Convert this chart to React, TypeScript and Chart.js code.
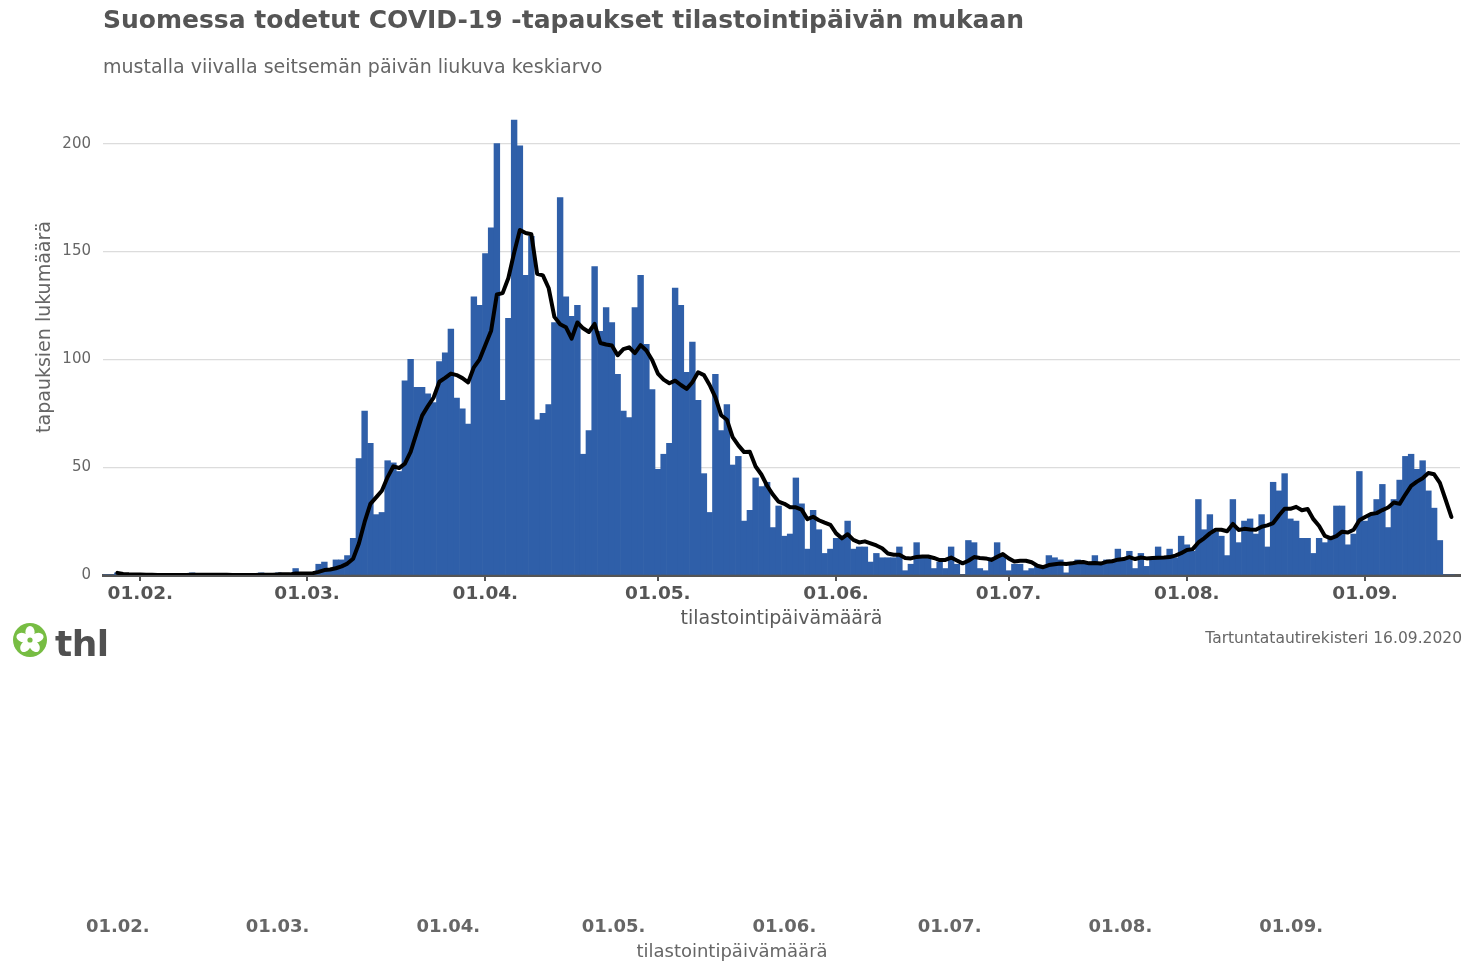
import React, { useEffect, useRef } from 'react';
import { Chart, registerables } from 'chart.js';

Chart.register(...registerables);

const FONT = "'DejaVu Sans', sans-serif";

// [month, first day, last day] of the category range (2020)
const monthSpans: [number, number, number][] = [
  [1, 26, 31], [2, 1, 29], [3, 1, 31], [4, 1, 30], [5, 1, 31],
  [6, 1, 30], [7, 1, 31], [8, 1, 31], [9, 1, 17],
];
const pad2 = (n: number) => String(n).padStart(2, '0');
const dayLabels: string[] = monthSpans.flatMap(([m, a, b]) =>
  Array.from({ length: b - a + 1 }, (_, i) => `${pad2(a + i)}.${pad2(m)}.`)
);

const monthTickLabels = ['01.02.', '01.03.', '01.04.', '01.05.', '01.06.', '01.07.', '01.08.', '01.09.'];

// daily cases (bars)
const casesJan = [0, 0, 1, 0, 0, 0];
const casesFeb = [0, 0, 0, 0, 0, 0, 0, 0, 0, 1, 0, 0, 0, 0, 0, 0, 0, 0, 0, 0, 0, 1, 0, 0, 1, 0, 0, 3, 1];
const casesMar = [0, 1, 5, 6, 2, 7, 7, 9, 17, 54, 76, 61, 28, 29, 53, 52, 48, 90, 100, 87, 87, 84, 80, 99, 103, 114, 82, 77, 70, 129, 125];
const casesApr = [149, 161, 200, 81, 119, 211, 199, 139, 157, 72, 75, 79, 117, 175, 129, 120, 125, 56, 67, 143, 113, 124, 117, 93, 76, 73, 124, 139, 107, 86];
const casesMay = [49, 56, 61, 133, 125, 94, 108, 81, 47, 29, 93, 67, 79, 51, 55, 25, 30, 45, 41, 43, 22, 32, 18, 19, 45, 33, 12, 30, 21, 10, 12];
const casesJun = [17, 17, 25, 12, 13, 13, 6, 10, 8, 8, 8, 13, 2, 5, 15, 9, 8, 3, 6, 3, 13, 5, 0, 16, 15, 3, 2, 8, 15, 9];
const casesJul = [2, 5, 5, 2, 3, 4, 4, 9, 8, 7, 1, 5, 7, 5, 5, 9, 5, 7, 7, 12, 7, 11, 3, 10, 4, 8, 13, 8, 12, 8, 18];
const casesAug = [14, 11, 35, 21, 28, 20, 18, 9, 35, 15, 25, 26, 19, 28, 13, 43, 39, 47, 26, 25, 17, 17, 10, 17, 15, 18, 32, 32, 14, 19, 48];
const casesSep = [25, 28, 35, 42, 22, 35, 44, 55, 56, 49, 53, 39, 31, 16, 0, 0, null];

// seven-day moving average (black line)
const avgJan = [null, null, 1.0, 0.5, 0.33, 0.25];
const avgFeb = [0.2, 0.17, 0.14, 0, 0, 0, 0, 0, 0, 0.14, 0.14, 0.14, 0.14, 0.14, 0.14, 0.14, 0, 0, 0, 0, 0, 0.14, 0.14, 0.14, 0.29, 0.29, 0.29, 0.71, 0.71];
const avgMar = [0.71, 0.86, 1.43, 2.29, 2.57, 3.14, 4.0, 5.29, 7.57, 14.6, 24.6, 33.0, 36.0, 39.1, 45.4, 50.4, 49.6, 51.6, 57.1, 65.6, 73.9, 78.3, 82.3, 89.6, 91.4, 93.4, 92.7, 91.3, 89.3, 96.3, 100.0];
const avgApr = [106.6, 113.3, 130.1, 130.7, 137.7, 149.4, 160.0, 158.6, 158.0, 139.7, 138.9, 133.1, 119.7, 116.3, 114.9, 109.6, 117.1, 114.4, 112.7, 116.4, 107.6, 106.9, 106.4, 101.9, 104.7, 105.6, 102.9, 106.6, 104.1, 99.7];
const avgMay = [93.4, 90.6, 88.9, 90.1, 88.1, 86.3, 89.4, 94.0, 92.7, 88.1, 82.4, 74.1, 72.0, 63.9, 60.1, 57.0, 57.1, 50.3, 46.6, 41.4, 37.3, 34.0, 33.0, 31.4, 31.4, 30.3, 25.9, 27.0, 25.4, 24.3, 23.3];
const avgJun = [19.3, 17.0, 18.9, 16.3, 15.1, 15.6, 14.7, 13.7, 12.4, 10.0, 9.4, 9.4, 7.9, 7.7, 8.4, 8.6, 8.6, 7.9, 6.9, 7.0, 8.1, 6.7, 5.4, 6.6, 8.3, 7.9, 7.7, 7.0, 8.4, 9.7];
const avgJul = [7.7, 6.3, 6.6, 6.6, 5.9, 4.3, 3.6, 4.6, 5.0, 5.3, 5.1, 5.4, 5.9, 6.0, 5.4, 5.6, 5.3, 6.1, 6.4, 7.1, 7.4, 8.3, 7.4, 8.1, 7.7, 7.9, 8.0, 8.1, 8.3, 9.0, 10.1];
const avgAug = [11.6, 12.0, 15.1, 17.0, 19.3, 21.0, 21.0, 20.3, 23.7, 20.9, 21.4, 21.1, 21.0, 22.4, 23.0, 24.1, 27.6, 30.7, 30.7, 31.6, 30.0, 30.6, 25.9, 22.7, 18.1, 17.0, 18.0, 20.1, 19.7, 21.0, 25.4];
const avgSep = [26.9, 28.3, 28.7, 30.1, 31.3, 33.6, 33.0, 37.3, 41.3, 43.3, 44.9, 47.3, 46.7, 42.7, 34.9, 26.9, null];

const cases = [...casesJan, ...casesFeb, ...casesMar, ...casesApr, ...casesMay, ...casesJun, ...casesJul, ...casesAug, ...casesSep];
const avg = [...avgJan, ...avgFeb, ...avgMar, ...avgApr, ...avgMay, ...avgJun, ...avgJul, ...avgAug, ...avgSep];

const keepMonthTicks = (s: any) => {
  s.ticks = s.ticks.filter((t: any) => monthTickLabels.includes(dayLabels[t.value]));
};

export default function App() {
  const mainRef = useRef<HTMLCanvasElement | null>(null);
  const lowerRef = useRef<HTMLCanvasElement | null>(null);

  useEffect(() => {
    const c1 = new Chart(mainRef.current as HTMLCanvasElement, {
      type: 'bar',
      data: {
        labels: dayLabels,
        datasets: [
          {
            type: 'line',
            data: avg,
            borderColor: '#000000',
            borderWidth: 4,
            pointRadius: 0,
            tension: 0,
            borderJoinStyle: 'round',
            borderCapStyle: 'round',
            order: 0,
          } as any,
          {
            type: 'bar',
            data: cases,
            backgroundColor: '#2f5fa9',
            borderWidth: 0,
            barPercentage: 1,
            categoryPercentage: 1,
            order: 1,
          } as any,
        ],
      },
      options: {
        responsive: false,
        animation: false,
        layout: { padding: { top: 79, left: 0, right: 20, bottom: 0 } },
        plugins: {
          legend: { display: false },
          tooltip: { enabled: false },
          title: { display: false },
        },
        scales: {
          x: {
            type: 'category',
            offset: true,
            z: 1,
            grid: { display: true, drawOnChartArea: false, drawTicks: true, tickLength: 6, offset: false, color: '#555555', lineWidth: 2 },
            border: { display: true, color: '#555555', width: 3 },
            ticks: {
              autoSkip: false,
              maxRotation: 0,
              minRotation: 0,
              padding: 2,
              color: '#555555',
              font: { family: FONT, size: 18.5, weight: 'bold', lineHeight: 1.2 },
            },
            afterBuildTicks: keepMonthTicks,
            afterFit: (s: any) => { s.height = 55; },
            title: {
              display: true,
              text: 'tilastointipäivämäärä',
              color: '#5a5a5a',
              font: { family: FONT, size: 19, lineHeight: 1.2 },
              padding: { top: 0, bottom: 0 },
            },
          } as any,
          y: {
            min: 0,
            max: 230,
            ticks: { stepSize: 50, padding: 12, color: '#666666', font: { family: FONT, size: 15 } },
            afterBuildTicks: (s: any) => { s.ticks = s.ticks.filter((t: any) => t.value % 50 === 0); },
            afterFit: (s: any) => { s.width = 103; },
            grid: { color: '#dcdcdc', lineWidth: 1.3, drawTicks: false },
            border: { display: false },
            title: {
              display: true,
              text: 'tapauksien lukumäärä',
              color: '#666666',
              font: { family: FONT, size: 19, lineHeight: 1.2 },
              padding: { top: 34, bottom: 0 },
            },
          } as any,
        },
      },
    });

    const c2 = new Chart(lowerRef.current as HTMLCanvasElement, {
      type: 'bar',
      data: {
        labels: dayLabels,
        datasets: [{ data: dayLabels.map(() => null), backgroundColor: 'rgba(0,0,0,0)' }],
      },
      options: {
        responsive: false,
        animation: false,
        layout: { padding: { top: 20, left: 82, right: 98, bottom: 0 } },
        plugins: { legend: { display: false }, tooltip: { enabled: false } },
        scales: {
          x: {
            type: 'category',
            offset: true,
            grid: { display: false, drawTicks: false },
            border: { display: false },
            ticks: {
              autoSkip: false,
              maxRotation: 0,
              minRotation: 0,
              padding: 0,
              color: '#666666',
              font: { family: FONT, size: 18, weight: 'bold', lineHeight: 1.2 },
            },
            afterBuildTicks: keepMonthTicks,
            afterFit: (s: any) => { s.height = 53; },
            title: {
              display: true,
              text: 'tilastointipäivämäärä',
              color: '#666666',
              font: { family: FONT, size: 18, lineHeight: 1.2 },
              padding: { top: 0, bottom: 7 },
            },
          } as any,
          y: { display: false, min: 0, max: 1 },
        },
      },
    });

    return () => {
      c1.destroy();
      c2.destroy();
    };
  }, []);

  const petals = [0, 72, 144, 216, 288];

  return (
    <div
      style={{
        position: 'absolute',
        left: 0,
        top: 0,
        width: 1480,
        height: 961,
        overflow: 'hidden',
        background: '#ffffff',
        fontFamily: FONT,
      }}
    >
      <canvas ref={mainRef} width={1480} height={630} style={{ position: 'absolute', left: 0, top: 0, display: 'block' }} />
      <canvas ref={lowerRef} width={1480} height={90} style={{ position: 'absolute', left: 0, top: 880, display: 'block' }} />

      <div style={{ position: 'absolute', left: 103, top: 7, fontSize: 25, lineHeight: '25px', fontWeight: 'bold', color: '#555555', whiteSpace: 'nowrap' }}>
        Suomessa todetut COVID-19 -tapaukset tilastointipäivän mukaan
      </div>
      <div style={{ position: 'absolute', left: 103, top: 57, fontSize: 19, lineHeight: '19px', color: '#666666', whiteSpace: 'nowrap' }}>
        mustalla viivalla seitsemän päivän liukuva keskiarvo
      </div>
      <div style={{ position: 'absolute', right: 18, top: 630.5, fontSize: 15.5, lineHeight: '15.5px', color: '#666666', whiteSpace: 'nowrap' }}>
        Tartuntatautirekisteri 16.09.2020
      </div>

      <svg width={40} height={40} viewBox="0 0 40 40" style={{ position: 'absolute', left: 10, top: 620 }}>
        <circle cx={20} cy={20} r={17} fill="#77bd43" />
        {petals.map((a) => (
          <ellipse key={a} cx={20} cy={12.3} rx={4.6} ry={6.4} fill="#ffffff" transform={`rotate(${a} 20 20)`} />
        ))}
        <circle cx={20} cy={20} r={2.6} fill="#77bd43" />
      </svg>
      <div style={{ position: 'absolute', left: 55, top: 625.5, fontSize: 36, lineHeight: '36px', fontWeight: 'bold', color: '#505050', letterSpacing: '-0.5px', whiteSpace: 'nowrap' }}>
        thl
      </div>
    </div>
  );
}
